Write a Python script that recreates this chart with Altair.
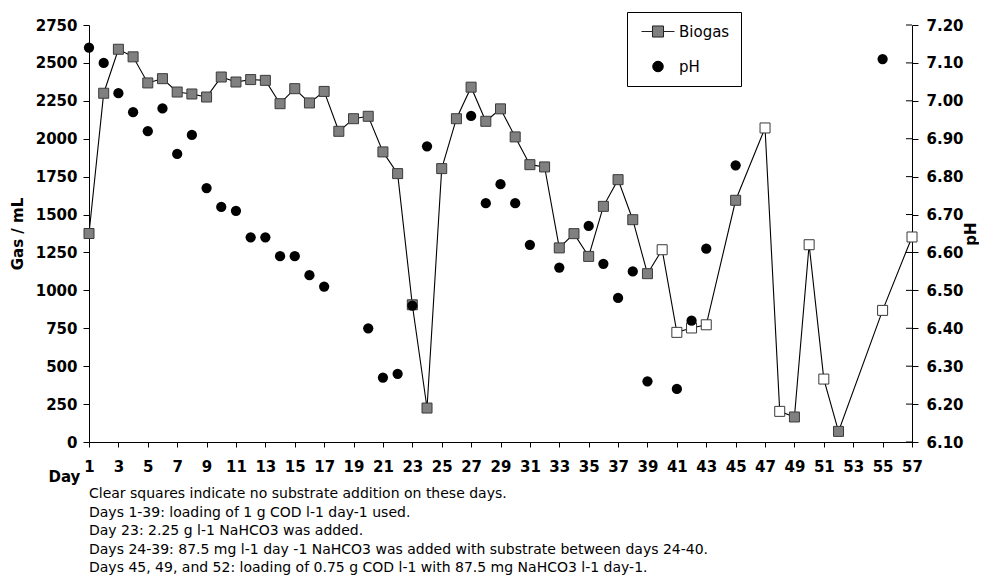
import altair as alt
import pandas as pd

# ---------------- data ----------------
gas_days = [1, 2, 3, 4, 5, 6, 7, 8, 9, 10, 11, 12, 13, 14, 15, 16, 17, 18, 19, 20,
            21, 22, 23, 24, 25, 26, 27, 28, 29, 30, 31, 32, 33, 34, 35, 36, 37, 38, 39,
            40, 41, 42, 43, 45, 47, 48, 49, 50, 51, 52, 55, 57]
gas_values = [1375, 2300, 2590, 2540, 2368, 2396, 2308, 2295, 2275, 2407, 2374, 2390,
              2385, 2231, 2330, 2236, 2312, 2049, 2132, 2148, 1913, 1770, 905, 224,
              1803, 2132, 2340, 2115, 2197, 2012, 1829, 1814, 1280, 1374, 1224, 1554,
              1730, 1466, 1110, 1268, 723, 752, 773, 1594, 2071, 202, 165, 1301, 415,
              70, 868, 1352]
substrate = (["fed"] * 39 + ["none"] * 4 + ["fed"] + ["none"] * 2 + ["fed"]
             + ["none"] * 2 + ["fed"] + ["none"] * 2)

ph_days = [1, 2, 3, 4, 5, 6, 7, 8, 9, 10, 11, 12, 13, 14, 15, 16, 17, 20, 21, 22, 23,
           24, 27, 28, 29, 30, 31, 33, 35, 36, 37, 38, 39, 41, 42, 43, 45, 55]
ph_values = [7.14, 7.10, 7.02, 6.97, 6.92, 6.98, 6.86, 6.91, 6.77, 6.72, 6.71, 6.64,
             6.64, 6.59, 6.59, 6.54, 6.51, 6.40, 6.27, 6.28, 6.46, 6.88, 6.96, 6.73,
             6.78, 6.73, 6.62, 6.56, 6.67, 6.57, 6.48, 6.55, 6.26, 6.24, 6.42, 6.61,
             6.83, 7.11]

gas_ticks = [0, 250, 500, 750, 1000, 1250, 1500, 1750, 2000, 2250, 2500, 2750]
ph_ticks = [6.1, 6.2, 6.3, 6.4, 6.5, 6.6, 6.7, 6.8, 6.9, 7.0, 7.1, 7.2]
day_ticks = list(range(1, 58, 2))
series_names = ["Biogas", "pH"]

notes = [
    "Clear squares indicate no substrate addition on these days.",
    "Days 1-39: loading of 1 g COD l-1 day-1 used.",
    "Day 23: 2.25 g l-1 NaHCO3  was added.",
    "Days 24-39: 87.5 mg l-1 day -1 NaHCO3 was added  with substrate between days 24-40.",
    "Days 45, 49, and 52:  loading of 0.75 g COD l-1 with 87.5 mg NaHCO3 l-1 day-1.",
]

# ---------------- tables ----------------
gas_df = pd.DataFrame({"day": gas_days, "gas": gas_values, "substrate": substrate})
ph_df = pd.DataFrame({"day": ph_days, "ph": ph_values})
legend_df = pd.concat([
    pd.DataFrame({"day": gas_days, "series": series_names[0]}),
    pd.DataFrame({"day": ph_days, "series": series_names[1]}),
])
tick_df = pd.DataFrame({"ph": ph_ticks})

W, H = 823, 417
FONT = "DejaVu Sans"

x_enc = alt.X(
    "day:Q",
    scale=alt.Scale(domain=[1, 57], nice=False, zero=False),
    axis=alt.Axis(values=day_ticks, title="Day", titleX=-41, titleY=39,
                  titleAlign="left", titleBaseline="alphabetic", titleAngle=0,
                  tickSize=5, labelPadding=12, labelAngle=0, labelFlush=False,
                  labelOverlap=False),
)

gas_scale = alt.Scale(domain=[0, 2750], nice=False, zero=True)
gas_axis = alt.Axis(values=gas_ticks, orient="left", title="Gas / mL", format="d",
                    titleX=-72, titleY=H / 2, titleAngle=270, titleAlign="center",
                    titleBaseline="middle", tickSize=6, labelPadding=6,
                    labelOverlap=False)
ph_scale = alt.Scale(domain=[6.1, 7.2], nice=False, zero=False)
ph_axis = alt.Axis(values=ph_ticks, orient="right", title="pH", format=".2f",
                   titleX=58, titleY=H / 2, titleAngle=270, titleAlign="center",
                   titleBaseline="middle", tickSize=6, labelPadding=8,
                   labelOverlap=False)

y_gas = alt.Y("gas:Q", scale=gas_scale, axis=gas_axis)
y_ph = alt.Y("ph:Q", scale=ph_scale, axis=ph_axis)

line = alt.Chart(gas_df).mark_line(color="black", strokeWidth=1.1).encode(x=x_enc, y=y_gas)
fed_sq = alt.Chart(gas_df).transform_filter(alt.datum.substrate == "fed").mark_square(
    size=100, fill="#808080", stroke="#3a3a3a", strokeWidth=1, opacity=1
).encode(x=x_enc, y=y_gas)
clear_sq = alt.Chart(gas_df).transform_filter(alt.datum.substrate == "none").mark_square(
    size=100, fill="white", stroke="#3a3a3a", strokeWidth=1, opacity=1
).encode(x=x_enc, y=y_gas)
gas_layer = alt.layer(line, fed_sq, clear_sq)

inner_ticks = alt.Chart(tick_df).mark_rule(color="black", strokeWidth=1).encode(
    y=y_ph, x=alt.value(W - 6), x2=alt.value(W)
)
ph_points = alt.Chart(ph_df).mark_circle(size=105, color="black", opacity=1).encode(
    x=x_enc, y=y_ph
)
ph_layer = alt.layer(inner_ticks, ph_points)

# legend symbols (unit = 8 px for a 16 px symbol box)
biogas_symbol = "M-2.06,0H-0.69M0.69,0H2.06M-0.69,-0.69H0.69V0.69H-0.69Z"
ph_symbol = "M-0.66,0A0.66,0.66,0,1,0,0.66,0A0.66,0.66,0,1,0,-0.66,0Z"
leg = alt.Legend(title=None)
legend_layer = alt.Chart(legend_df).mark_point(filled=True, opacity=0, size=256).encode(
    x=x_enc,
    shape=alt.Shape("series:N", scale=alt.Scale(domain=series_names, range=[biogas_symbol, ph_symbol]), legend=leg),
    fill=alt.Fill("series:N", scale=alt.Scale(domain=series_names, range=["#808080", "black"]), legend=leg),
    stroke=alt.Stroke("series:N", scale=alt.Scale(domain=series_names, range=["#222222", "black"]), legend=leg),
)

chart = (
    alt.layer(gas_layer, ph_layer, legend_layer)
    .resolve_scale(y="independent")
    .properties(
        width=W,
        height=H,
        autosize=alt.AutoSizeParams(type="none"),
        padding={"left": 81, "top": 17, "right": 67, "bottom": 138},
        title=alt.TitleParams(text=notes, orient="bottom", anchor="start", frame="group",
                              font=FONT, fontSize=14, fontWeight="normal", color="black",
                              lineHeight=18.5, offset=14, baseline="alphabetic"),
    )
    .configure_view(stroke="transparent")
    .configure_axis(grid=False, domainColor="black", domainWidth=1, tickColor="black",
                    tickWidth=1, labelFont=FONT, labelFontSize=15, labelFontWeight="bold",
                    labelColor="black", titleFont=FONT, titleFontSize=15,
                    titleFontWeight="bold", titleColor="black")
    .configure_legend(orient="none", legendX=538, legendY=-13, strokeColor="black",
                      strokeWidth=1, fillColor="white", padding=11, rowPadding=18,
                      symbolSize=256, symbolOffset=11.5, labelOffset=12.5,
                      symbolStrokeWidth=1, symbolOpacity=1, labelFont=FONT,
                      labelFontSize=15, labelColor="black", labelLimit=300,
                      cornerRadius=0)
)

chart.save("out.html", embed_options={"renderer": "svg", "actions": False})
